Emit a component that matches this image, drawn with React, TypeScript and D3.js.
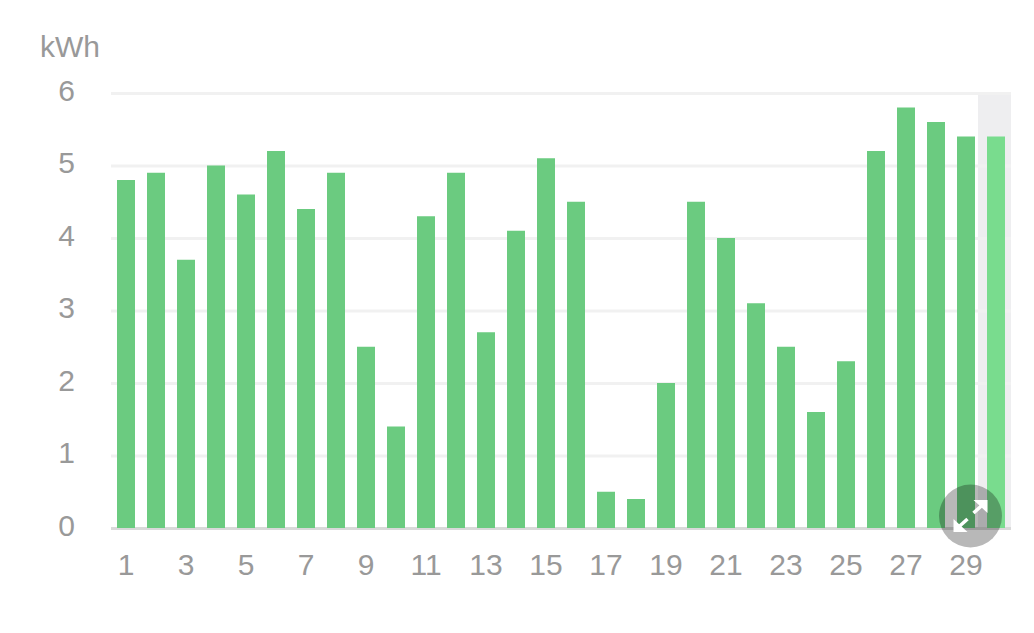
import React, { useEffect, useRef } from "react";
import * as d3 from "d3";

const days = d3.range(1, 31).map(String);
const kwh = [
  4.8, 4.9, 3.7, 5.0, 4.6, 5.2, 4.4, 4.9, 2.5, 1.4, 4.3, 4.9, 2.7, 4.1, 5.1,
  4.5, 0.5, 0.4, 2.0, 4.5, 4.0, 3.1, 2.5, 1.6, 2.3, 5.2, 5.8, 5.6, 5.4, 5.4,
];
const yTicks = [0, 1, 2, 3, 4, 5, 6];
const xTicks = days.filter((d) => +d % 2 === 1);
const selectedDay = "30";
const unit = "kWh";

const width = 1034;
const height = 633;
const font = "'Liberation Sans', Arial, sans-serif";

export default function App() {
  const ref = useRef<SVGSVGElement>(null);

  useEffect(() => {
    const svg = d3.select(ref.current);
    svg.selectAll("*").remove();

    const x = d3.scaleBand().domain(days).range([111, 1011]).paddingInner(0.4).paddingOuter(0.2);
    const y = d3.scaleLinear().domain([0, 6]).range([528, 93]);

    // highlight behind the selected day
    const hlStart = x(selectedDay)! - x.step() * 0.3;
    svg.append("rect")
      .attr("x", hlStart)
      .attr("y", y(6))
      .attr("width", x.range()[1] - hlStart)
      .attr("height", y(0) - y(6))
      .attr("fill", "#eeeef0");

    // y axis with grid lines
    const yAxis = svg.append("g")
      .attr("transform", "translate(111,0)")
      .call(d3.axisLeft(y).tickValues(yTicks).tickFormat(d3.format("d")).tickSize(-900).tickPadding(36));
    yAxis.select(".domain").remove();
    yAxis.selectAll(".tick line")
      .attr("stroke", (d) => (d === 0 ? "#d9d9d9" : "#f1f1f1"))
      .attr("stroke-width", 3);
    yAxis.selectAll("text")
      .attr("fill", "#999")
      .attr("font-family", font)
      .attr("font-size", 30)
      .attr("dy", "0.24em");

    // bars
    svg.append("g")
      .selectAll("rect")
      .data(kwh)
      .join("rect")
      .attr("x", (_, i) => x(days[i])!)
      .attr("y", (d) => y(d))
      .attr("width", x.bandwidth())
      .attr("height", (d) => y(0) - y(d))
      .attr("fill", (_, i) => (days[i] === selectedDay ? "#79dc8e" : "#6bcb80"));

    // x axis
    const xAxis = svg.append("g")
      .attr("transform", "translate(0,528)")
      .call(d3.axisBottom(x).tickValues(xTicks).tickSize(0).tickPadding(26));
    xAxis.select(".domain").remove();
    xAxis.selectAll("text")
      .attr("fill", "#999")
      .attr("font-family", font)
      .attr("font-size", 30)
      .attr("dy", "0.71em");

    // unit label
    svg.append("text")
      .attr("x", 40)
      .attr("y", 57)
      .attr("fill", "#999")
      .attr("font-family", font)
      .attr("font-size", 30)
      .text(unit);

    // expand button
    const btn = svg.append("g").attr("transform", "translate(970.5,516)");
    btn.append("circle").attr("r", 31.5).attr("fill", "#000").attr("fill-opacity", 0.28);
    const arrow = d3.line();
    btn.append("path")
      .attr("d", arrow([[-13, 12], [-3, 3]]))
      .attr("stroke", "#fff")
      .attr("stroke-width", 3.5);
    btn.append("path")
      .attr("d", arrow([[3, -3], [13, -12]]))
      .attr("stroke", "#fff")
      .attr("stroke-width", 3.5);
    btn.append("path")
      .attr("d", arrow([[-17, 3], [-17, 16], [-3, 16]]) + "Z")
      .attr("fill", "#fff");
    btn.append("path")
      .attr("d", arrow([[3, -16], [17, -16], [17, -3]]) + "Z")
      .attr("fill", "#fff");
  }, []);

  return (
    <svg
      ref={ref}
      width={width}
      height={height}
      style={{ position: "absolute", left: 0, top: 0, background: "#fff" }}
    />
  );
}
